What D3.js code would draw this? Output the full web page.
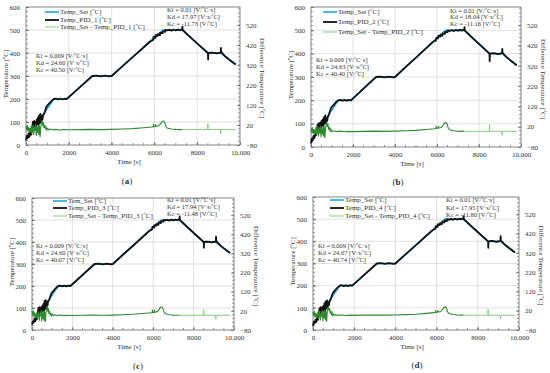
<!DOCTYPE html>
<html><head><meta charset="utf-8">
<script src="https://cdn.jsdelivr.net/npm/d3@7"></script>
<style>
body{margin:0;background:#fff}
svg{display:block}
text{font-family:"Liberation Serif","Times New Roman",serif;fill:#333}
</style>
</head><body>
<svg id="chart" width="550" height="373"></svg>
<script>
// ---------- DATA ----------
const xTicks = [0, 2000, 4000, 6000, 8000, 10000];
const yTicks = [0, 100, 200, 300, 400, 500, 600];
const rTicks = [-80, 20, 120, 220, 320, 420, 520];

// set-point profile (shared by all four tests)
const setTime = [0, 1300, 1900, 3100, 4000, 6400, 7300, 8500, 9100, 9800];
const setTemp = [25, 200, 200, 300, 300, 500, 500, 400, 400, 350];

// measured temperatures [time, °C]
const pid1 = [[0,20],[40,40],[80,30],[120,50],[160,35],[200,55],[240,45],[280,70],[320,100],[350,75],[380,105],[410,85],[440,100],[470,80],[500,110],[530,90],[560,120],[590,85],[620,130],[650,95],[680,135],[710,100],[740,125],[770,110],[800,130],[850,135],[900,150],[950,165],[1000,172],[1100,182],[1200,192],[1300,200],[1400,202],[1500,198],[1600,202],[1700,198],[1800,202],[1900,200],[2300,233],[2700,267],[3100,300],[3300,302],[3500,298],[3700,302],[3900,298],[4000,300],[4500,342],[5000,383],[5500,425],[5800,450],[5900,455],[5950,458],[5960,470],[6050,466],[6060,478],[6150,474],[6160,482],[6260,478],[6270,488],[6380,486],[6390,494],[6500,492],[6510,500],[6600,498],[6700,501],[6800,497],[6900,502],[7000,498],[7100,502],[7200,499],[7300,505],[7310,515],[7320,500],[7700,467],[8100,433],[8500,400],[8510,372],[8520,400],[8700,402],[8900,398],[9050,401],[9100,402],[9110,422],[9120,405],[9300,386],[9500,371],[9800,350]];
const pid2 = [[0,15],[40,35],[80,28],[120,48],[160,38],[200,52],[240,50],[280,72],[320,98],[350,78],[380,102],[410,88],[440,104],[470,82],[500,112],[530,92],[560,118],[590,88],[620,128],[650,100],[680,136],[710,104],[740,122],[770,112],[800,128],[850,138],[900,152],[950,166],[1000,173],[1100,183],[1200,193],[1300,200],[1400,202],[1500,198],[1600,202],[1700,198],[1800,202],[1900,200],[2300,233],[2700,267],[3100,300],[3300,302],[3500,298],[3700,302],[3900,298],[4000,300],[4500,342],[5000,383],[5500,425],[5800,450],[5900,455],[5950,457],[5960,468],[6050,465],[6060,476],[6150,473],[6160,481],[6260,477],[6270,487],[6380,485],[6390,493],[6500,491],[6510,500],[6600,497],[6700,501],[6800,497],[6900,502],[7000,498],[7100,502],[7200,499],[7300,504],[7310,514],[7320,500],[7700,467],[8100,433],[8500,400],[8510,368],[8520,400],[8700,402],[8900,398],[9050,401],[9100,402],[9110,420],[9120,404],[9300,386],[9500,371],[9800,350]];
const pid3 = [[0,25],[40,38],[80,34],[120,52],[160,40],[200,58],[240,48],[280,75],[320,102],[350,76],[380,104],[410,84],[440,102],[470,80],[500,108],[530,88],[560,118],[590,86],[620,132],[650,96],[680,136],[710,100],[740,124],[770,112],[800,132],[850,136],[900,151],[950,164],[1000,171],[1100,182],[1200,192],[1300,200],[1400,202],[1500,198],[1600,202],[1700,198],[1800,202],[1900,200],[2300,233],[2700,267],[3100,300],[3300,302],[3500,298],[3700,302],[3900,298],[4000,300],[4500,342],[5000,383],[5500,425],[5800,450],[5900,455],[5950,458],[5960,469],[6050,466],[6060,477],[6150,474],[6160,482],[6260,478],[6270,489],[6380,486],[6390,495],[6500,492],[6510,500],[6600,498],[6700,501],[6800,497],[6900,502],[7000,498],[7100,502],[7200,499],[7300,505],[7310,516],[7320,500],[7700,467],[8100,433],[8500,400],[8510,374],[8520,400],[8700,402],[8900,398],[9050,401],[9100,402],[9110,424],[9120,405],[9300,386],[9500,371],[9800,350]];
const pid4 = [[0,18],[40,36],[80,30],[120,46],[160,36],[200,54],[240,46],[280,68],[320,99],[350,74],[380,103],[410,86],[440,101],[470,81],[500,109],[530,90],[560,121],[590,84],[620,129],[650,97],[680,134],[710,102],[740,123],[770,111],[800,129],[850,136],[900,150],[950,165],[1000,172],[1100,182],[1200,192],[1300,200],[1400,202],[1500,198],[1600,202],[1700,198],[1800,202],[1900,200],[2300,233],[2700,267],[3100,300],[3300,302],[3500,298],[3700,302],[3900,298],[4000,300],[4500,342],[5000,383],[5500,425],[5800,450],[5900,455],[5950,457],[5960,469],[6050,465],[6060,477],[6150,473],[6160,481],[6260,478],[6270,488],[6380,485],[6390,494],[6500,491],[6510,500],[6600,497],[6700,501],[6800,497],[6900,502],[7000,498],[7100,502],[7200,499],[7300,504],[7310,514],[7320,500],[7700,467],[8100,433],[8500,400],[8510,371],[8520,400],[8700,402],[8900,398],[9050,401],[9100,402],[9110,423],[9120,404],[9300,386],[9500,371],[9800,350]];

// difference temperature (set - measured) [time, °C], right axis
const diff1 = [[0,15],[30,-5],[60,20],[90,-10],[120,10],[150,-20],[180,5],[210,-15],[240,15],[270,-25],[300,0],[330,20],[360,-30],[390,5],[420,-10],[450,25],[480,-35],[510,10],[540,-20],[570,20],[600,-30],[630,15],[660,-40],[690,10],[720,30],[750,45],[780,15],[810,35],[840,5],[870,20],[900,0],[930,10],[960,-5],[1000,3],[1050,-5],[1100,0],[1200,-4],[1400,-2],[1600,-5],[1800,-3],[2000,-4],[2500,-3],[3000,-2],[3500,-3],[4000,-2],[4500,0],[5000,2],[5500,6],[5900,10],[5950,12],[5960,25],[5970,12],[6050,13],[6060,24],[6070,13],[6200,16],[6300,28],[6350,38],[6420,40],[6480,35],[6530,15],[6600,5],[6800,0],[7000,-2],[7300,-3]];
const diff2 = [[0,10],[30,-8],[60,18],[90,-12],[120,8],[150,-22],[180,6],[210,-12],[240,18],[270,-22],[300,2],[330,22],[360,-28],[390,8],[420,-12],[450,22],[480,-32],[510,12],[540,-18],[570,22],[600,-28],[630,18],[660,-36],[690,12],[720,32],[750,44],[780,18],[810,34],[840,6],[870,18],[900,2],[930,8],[960,-4],[1000,2],[1050,-4],[1100,0],[1200,-4],[1400,-2],[1600,-5],[1800,-3],[2000,-4],[2500,-3],[3000,-2],[3500,-3],[4000,-2],[4500,0],[5000,2],[5500,6],[5900,10],[5950,12],[5960,24],[5970,12],[6050,13],[6060,23],[6070,13],[6200,16],[6300,28],[6350,38],[6420,40],[6480,35],[6530,15],[6600,5],[6800,0],[7000,-2],[7300,-3]];
const diff3 = [[0,18],[30,-4],[60,22],[90,-8],[120,12],[150,-18],[180,4],[210,-16],[240,14],[270,-24],[300,-2],[330,18],[360,-32],[390,4],[420,-8],[450,24],[480,-34],[510,8],[540,-22],[570,18],[600,-32],[630,14],[660,-38],[690,8],[720,28],[750,46],[780,16],[810,36],[840,4],[870,20],[900,-2],[930,10],[960,-6],[1000,2],[1050,-5],[1100,0],[1200,-4],[1400,-2],[1600,-5],[1800,-3],[2000,-4],[2500,-3],[3000,-2],[3500,-3],[4000,-2],[4500,0],[5000,2],[5500,6],[5900,10],[5950,12],[5960,26],[5970,12],[6050,13],[6060,25],[6070,13],[6200,16],[6300,28],[6350,38],[6420,41],[6480,35],[6530,15],[6600,5],[6800,0],[7000,-2],[7300,-3]];
const diff4 = [[0,14],[30,-6],[60,19],[90,-11],[120,9],[150,-19],[180,5],[210,-14],[240,16],[270,-23],[300,1],[330,19],[360,-29],[390,6],[420,-11],[450,23],[480,-33],[510,11],[540,-19],[570,21],[600,-29],[630,16],[660,-37],[690,11],[720,31],[750,43],[780,17],[810,33],[840,5],[870,19],[900,1],[930,9],[960,-5],[1000,3],[1050,-4],[1100,0],[1200,-4],[1400,-2],[1600,-5],[1800,-3],[2000,-4],[2500,-3],[3000,-2],[3500,-3],[4000,-2],[4500,0],[5000,2],[5500,6],[5900,10],[5950,12],[5960,24],[5970,12],[6050,13],[6060,24],[6070,13],[6200,16],[6300,28],[6350,37],[6420,40],[6480,34],[6530,15],[6600,5],[6800,0],[7000,-2],[7300,-3]];
// after 7300 s (light trace)
const diffLate1 = [[7300,-3],[8000,-3],[8490,-3],[8500,27],[8510,-3],[9090,-3],[9100,-25],[9110,-3],[9800,-3]];
const diffLate2 = [[7300,-3],[8000,-3],[8490,-3],[8500,30],[8510,-3],[9090,-3],[9100,-22],[9110,-3],[9800,-3]];
const diffLate3 = [[7300,-3],[8000,-3],[8490,-3],[8500,26],[8510,-3],[9090,-3],[9100,-24],[9110,-3],[9800,-3]];
const diffLate4 = [[7300,-3],[8000,-3],[8490,-3],[8500,28],[8510,-3],[9090,-3],[9100,-23],[9110,-3],[9800,-3]];

const setLabels = ["Temp_Set [ºC]", "Temp_Set [ºC]", "Tem_Set [ºC]", "Temp_Set [ºC]"];
const pidLabels = ["Temp_PID_1 [ºC]", "Temp_PID_2 [ºC]", "Temp_PID_3 [ºC]", "Temp_PID_4 [ºC]"];
const diffLabels = ["Temp_Set - Temp_PID_1 [ºC]", "Temp_Set - Temp_PID_2 [ºC]", "Temp_Set - Temp_PID_3 [ºC]", "Temp_Set - Temp_PID_4 [ºC]"];
const gainsLeft = [
  ["Ki = 0.009 [V/ºC·s]", "Kd = 24.60 [V·s/ºC]", "Kc = 40.50 [V/ºC]"],
  ["Ki = 0.009 [V/ºC·s]", "Kd = 24.63  [V·s/ºC]", "Kc = 40.40 [V/ºC]"],
  ["Ki = 0.009 [V/ºC·s]", "Kd = 24.60 [V·s/ºC]", "Kc = 40.07 [V/ºC]"],
  ["Ki = 0.009 [V/ºC·s]", "Kd = 24.67 [V·s/ºC]", "Kc = 40.74 [V/ºC]"]
];
const gainsRight = [
  ["Ki = 0.01 [V/ºC·s]", "Kd = 17.97  [V·s/ºC]", "Kc = -11.73 [V/ºC]"],
  ["Ki = 0.01 [V/ºC·s]", "Kd = 18.04  [V·s/ºC]", "Kc = -11.16 [V/ºC]"],
  ["Ki = 0.01 [V/ºC·s]", "Kd = 17.94  [V·s/ºC]", "Kc = -11.48 [V/ºC]"],
  ["Ki = 0.01 [V/ºC·s]", "Kd = 17.95  [V·s/ºC]", "Kc = -11.80 [V/ºC]"]
];
const captions = ["a", "b", "c", "d"];

// ---------- LAYOUT ----------
const panels = [
  {L:26, R:240, T:7, B:145, legX:45, legY:[12,20,27], annL:[36,57,64,71], annR:[167,11,18,25], cap:[127,182], titleY:162, pid:pid1, diff:diff1, late:diffLate1},
  {L:311, R:521, T:7, B:147, legX:323, legY:[12,22,32], annL:[316,61,68,75], annR:[450,12,18,25], cap:[398,183], titleY:164, pid:pid2, diff:diff2, late:diffLate2},
  {L:32, R:234, T:198, B:330, legX:53, legY:[201,208,216], annL:[36,247,254,261], annR:[167,201,208,215], cap:[138,367], titleY:347, pid:pid3, diff:diff3, late:diffLate3},
  {L:313, R:519, T:197, B:330, legX:330, legY:[200,208,216], annL:[318,247,254,261], annR:[446,201,209,216], cap:[417,366], titleY:347, pid:pid4, diff:diff4, late:diffLate4}
];

const C_SET = "#1ea7e1", C_PID = "#111111", C_DIFF = "#2f8a2f", C_LATE = "#86c986";
const svg = d3.select("#chart");
const xFmt = d => d >= 10000 ? d3.format(",")(d) : String(d);

panels.forEach((p, i) => {
  const g = svg.append("g");
  const x = d3.scaleLinear().domain([0, 10000]).range([p.L, p.R]);
  const y = d3.scaleLinear().domain([0, 600]).range([p.B, p.T]);
  const yr = d3.scaleLinear().domain([-80, 610]).range([p.B, p.T]);

  // grid
  g.selectAll(".gx").data(xTicks.slice(1, -1)).enter().append("line")
    .attr("x1", d => x(d)).attr("x2", d => x(d)).attr("y1", p.T).attr("y2", p.B)
    .attr("stroke", "#d9d9d9").attr("stroke-width", 0.8);
  g.selectAll(".gy").data(yTicks.slice(1, -1)).enter().append("line")
    .attr("y1", d => y(d)).attr("y2", d => y(d)).attr("x1", p.L).attr("x2", p.R)
    .attr("stroke", "#d9d9d9").attr("stroke-width", 0.8);

  // minor ticks
  g.selectAll(".mx").data(d3.range(500, 10000, 500)).enter().append("line")
    .attr("x1", d => x(d)).attr("x2", d => x(d)).attr("y1", p.B).attr("y2", p.B - 2)
    .attr("stroke", "#555").attr("stroke-width", 0.6);
  g.selectAll(".mr").data(d3.range(-60, 610, 20)).enter().append("line")
    .attr("y1", d => yr(d)).attr("y2", d => yr(d)).attr("x1", p.R).attr("x2", p.R - 2)
    .attr("stroke", "#555").attr("stroke-width", 0.6);
  g.selectAll(".ml").data(d3.range(20, 600, 20)).enter().append("line")
    .attr("y1", d => y(d)).attr("y2", d => y(d)).attr("x1", p.L).attr("x2", p.L + 2)
    .attr("stroke", "#555").attr("stroke-width", 0.6);

  // axes
  const ax = g.append("g").attr("transform", `translate(0,${p.B})`)
    .call(d3.axisBottom(x).tickValues(xTicks).tickFormat(xFmt).tickSizeInner(-3).tickSizeOuter(0).tickPadding(5));
  const ay = g.append("g").attr("transform", `translate(${p.L},0)`)
    .call(d3.axisLeft(y).tickValues(yTicks).tickSizeInner(-3).tickSizeOuter(0).tickPadding(6));
  const ar = g.append("g").attr("transform", `translate(${p.R},0)`)
    .call(d3.axisRight(yr).tickValues(rTicks).tickSizeInner(-3).tickSizeOuter(0).tickPadding(6));
  [ax, ay, ar].forEach(a => {
    a.select(".domain").remove();
    a.selectAll("line").attr("stroke", "#555").attr("stroke-width", 0.7);
    a.selectAll("text").style("font-family", '"Liberation Serif",serif').style("font-size", "7px").attr("fill", "#333");
  });

  // frame
  g.append("rect").attr("x", p.L).attr("y", p.T).attr("width", p.R - p.L).attr("height", p.B - p.T)
    .attr("fill", "none").attr("stroke", "#666").attr("stroke-width", 0.8);

  // lines
  const lineSet = d3.line().x((d, k) => x(setTime[k])).y(d => y(d));
  g.append("path").attr("d", lineSet(setTemp)).attr("fill", "none").attr("stroke", C_SET).attr("stroke-width", 1.6);
  const line = d3.line().x(d => x(d[0])).y(d => y(d[1]));
  g.append("path").attr("d", line(p.pid)).attr("fill", "none").attr("stroke", C_PID).attr("stroke-width", 1.8).attr("stroke-linejoin", "round");
  const lineR = d3.line().x(d => x(d[0])).y(d => yr(d[1]));
  g.append("path").attr("d", lineR(p.late)).attr("fill", "none").attr("stroke", C_LATE).attr("stroke-width", 1);
  g.append("path").attr("d", lineR(p.diff)).attr("fill", "none").attr("stroke", C_DIFF).attr("stroke-width", 1.1);

  // legend
  const legItems = [[setLabels[i], C_SET, 1.6], [pidLabels[i], C_PID, 1.8], [diffLabels[i], C_LATE, 1]];
  legItems.forEach((it, k) => {
    g.append("line").attr("x1", p.legX).attr("x2", p.legX + 14).attr("y1", p.legY[k]).attr("y2", p.legY[k])
      .attr("stroke", it[1]).attr("stroke-width", it[2]);
    g.append("text").attr("x", p.legX + 15).attr("y", p.legY[k]).attr("dominant-baseline", "middle")
      .style("font-size", "7px").text(it[0]);
  });

  // annotations
  gainsLeft[i].forEach((t, k) => {
    g.append("text").attr("x", p.annL[0]).attr("y", p.annL[k + 1]).attr("dominant-baseline", "middle")
      .style("font-size", "6.5px").text(t);
  });
  gainsRight[i].forEach((t, k) => {
    g.append("text").attr("x", p.annR[0]).attr("y", p.annR[k + 1]).attr("dominant-baseline", "middle")
      .style("font-size", "6.5px").text(t);
  });

  // axis titles
  g.append("text").attr("x", (p.L + p.R) / 2 - 4).attr("y", p.titleY).attr("text-anchor", "middle")
    .attr("dominant-baseline", "middle").style("font-size", "7px").text("Time [s]");
  g.append("text").attr("transform", `translate(${p.L - 20},${(p.T + p.B) / 2 - 2}) rotate(-90)`)
    .attr("text-anchor", "middle").attr("dominant-baseline", "middle").style("font-size", "7px").text("Temperature [ºC]");
  g.append("text").attr("transform", `translate(${p.R + 22},${(p.T + p.B) / 2 + 2}) rotate(90)`)
    .attr("text-anchor", "middle").attr("dominant-baseline", "middle").style("font-size", "7px").text("Difference Temperature [ºC]");

  // caption
  const cap = g.append("text").attr("x", p.cap[0]).attr("y", p.cap[1]).attr("text-anchor", "middle")
    .attr("dominant-baseline", "middle").style("font-size", "9px").attr("fill", "#000");
  cap.append("tspan").text("(");
  cap.append("tspan").style("font-weight", "bold").text(captions[i]);
  cap.append("tspan").text(")");
});
</script>
</body></html>
